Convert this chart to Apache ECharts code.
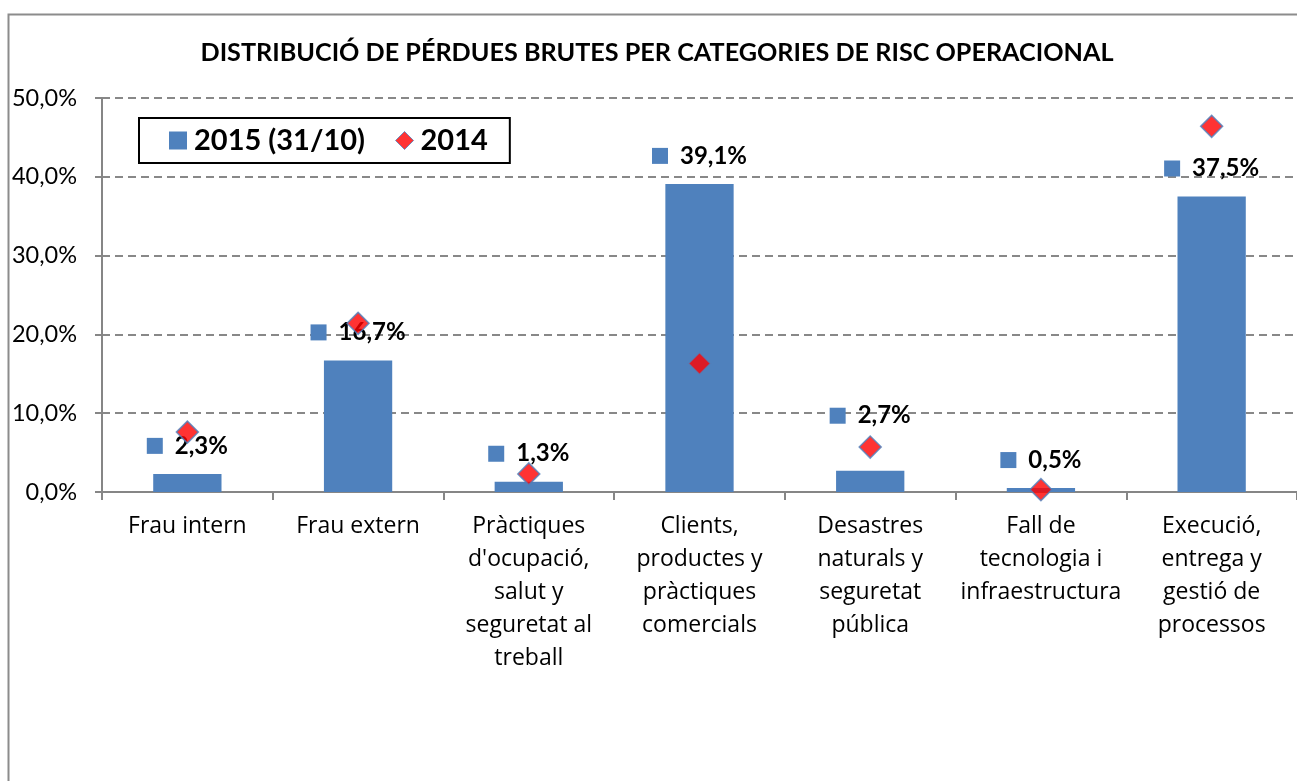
<!DOCTYPE html>
<html>
<head>
  <meta charset="utf-8">
  <title>Pèrdues brutes</title>
  <script src="https://cdn.jsdelivr.net/npm/echarts@6/dist/echarts.min.js"></script>
  <style>
    html, body { margin: 0; padding: 0; background: #fff; }
    #chart { width: 1297px; height: 781px; }
  </style>
</head>
<body>
  <div id="chart"></div>
  <script>
    const categories = [
      'Frau intern',
      'Frau extern',
      "Pràctiques\nd'ocupació,\nsalut y\nseguretat al\ntreball",
      'Clients,\nproductes y\npràctiques\ncomercials',
      'Desastres\nnaturals y\nseguretat\npública',
      'Fall de\ntecnologia i\ninfraestructura',
      'Execució,\nentrega y\ngestió de\nprocessos'
    ];
    const losses2015 = [2.3, 16.7, 1.3, 39.1, 2.7, 0.5, 37.5];
    const losses2014 = [7.6, 21.4, 2.3, 16.3, 5.7, 0.3, 46.4];
    const yMin = 0, yMax = 50, yStep = 10;

    const FONT = 'Lato';
    const CAT_FONT = 'Open Sans';  // Lato glues "ti" together, this one doesn't
    const BLUE = '#4F81BD';
    const pct = v => v.toFixed(1).replace('.', ',') + '%';

    // the 2,7% label sits higher in the original, pushed up by hand
    const barData = losses2015.map((v, i) => {
      let item = { value: v };
      if (i === 4) item.label = { offset: [0, -27] };
      return item;
    });

    let myChart = echarts.init(document.getElementById('chart'));
    let option = {
      backgroundColor: '#fff',
      animation: false,
      textStyle: { fontFamily: FONT },
      graphic: [{
        type: 'rect',
        left: 6, top: 12,
        shape: { width: 1400, height: 900 },
        style: { fill: 'none', stroke: '#8c8c8c', lineWidth: 2 },
        silent: true
      }],
      title: {
        text: 'DISTRIBUCIÓ DE PÉRDUES BRUTES PER CATEGORIES DE RISC OPERACIONAL',
        left: 652,
        textAlign: 'center',
        top: 35,
        textStyle: { fontFamily: FONT, fontWeight: 'bold', fontSize: 25.2, color: '#000' }
      },
      legend: {
        left: 139,
        top: 118,
        orient: 'horizontal',
        padding: [8, 22, 8, 30],
        itemGap: 30,
        itemWidth: 18,
        itemHeight: 18,
        borderColor: '#000',
        borderWidth: 2,
        textStyle: { fontFamily: FONT, fontWeight: 'bold', fontSize: 29, color: '#000', padding: [0, 0, 0, 2] },
        data: [
          { name: '2015 (31/10)', icon: 'rect' },
          { name: '2014', icon: 'diamond', itemStyle: { color: '#FF0000', borderColor: BLUE, borderWidth: 1 } }
        ]
      },
      grid: { left: 102, right: -9, top: 98, bottom: 289 },
      xAxis: {
        type: 'category',
        data: categories,
        axisLine: { lineStyle: { color: '#868686', width: 2 } },
        axisTick: { show: true, length: 8, lineStyle: { color: '#868686', width: 2 } },
        axisLabel: {
          interval: 0,
          margin: 18,
          fontFamily: CAT_FONT,
          fontSize: 23,
          lineHeight: 33,
          color: '#000',
          align: 'center'
        }
      },
      yAxis: {
        type: 'value',
        min: yMin,
        max: yMax,
        interval: yStep,
        axisLine: { show: true, lineStyle: { color: '#868686', width: 2 } },
        axisTick: { show: true, length: 7, lineStyle: { color: '#868686', width: 2 } },
        axisLabel: { formatter: pct, fontFamily: FONT, fontSize: 23.5, color: '#000', margin: 25 },
        splitLine: { lineStyle: { color: '#888', type: [8, 5], width: 2 } }
      },
      series: [
        {
          name: '2015 (31/10)',
          type: 'bar',
          barWidth: '40%',
          itemStyle: { color: BLUE },
          data: barData,
          label: {
            show: true,
            position: 'top',
            distance: 16,
            formatter: p => '{sq|}{gap|}{v|' + pct(p.value) + '}',
            rich: {
              sq: { width: 16, height: 16, backgroundColor: BLUE },
              gap: { width: 12 },
              v: { fontFamily: FONT, fontWeight: 'bold', fontSize: 24, color: '#000' }
            }
          },
          z: 2
        },
        {
          name: '2014',
          type: 'scatter',
          symbol: 'diamond',
          symbolSize: 22,
          itemStyle: { color: '#FF0000', borderColor: BLUE, borderWidth: 1.5 },
          data: losses2014,
          z: 3
        }
      ]
    };
    myChart.setOption(option);
  </script>
</body>
</html>
